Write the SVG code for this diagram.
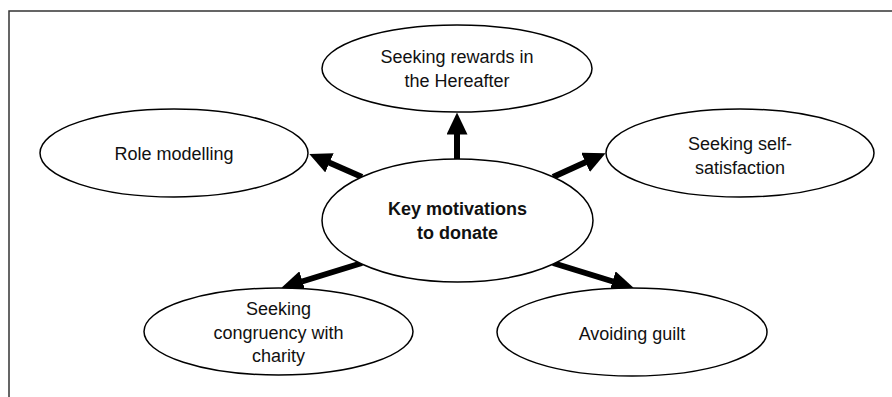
<svg xmlns="http://www.w3.org/2000/svg" width="892" height="397" viewBox="0 0 892 397">
<style>
  .frame { fill: none; stroke: #333; stroke-width: 1.5; }
  .node { fill: #fff; stroke: #000; stroke-width: 1.5; }
  .lbl { font-family: "Liberation Sans", Arial, sans-serif; font-size: 18px; fill: #111; text-anchor: middle; }
  .bold { font-weight: bold; }
  .arrow { stroke: #000; stroke-width: 6; fill: none; marker-end: url(#head); }
</style>
<defs>
  <marker id="head" viewBox="0 0 22 21" markerWidth="22" markerHeight="21" markerUnits="userSpaceOnUse" refX="0.5" refY="10.5" orient="auto">
    <path d="M0,0 L22,10.5 L0,21 Z" fill="#000"/>
  </marker>
</defs>
<rect width="892" height="397" fill="#fff"/>
<path class="frame" d="M9,397 L9,11 L892,11"/>

<g id="connectors">
  <line class="arrow" x1="457" y1="159" x2="457" y2="134"/>
  <line class="arrow" x1="362" y1="177" x2="329" y2="162.6"/>
  <line class="arrow" x1="553" y1="177" x2="586" y2="162.1"/>
  <line class="arrow" x1="362" y1="263" x2="302" y2="281.5"/>
  <line class="arrow" x1="553" y1="263" x2="613" y2="281.5"/>
</g>

<g id="node-hereafter">
  <ellipse class="node" cx="457" cy="68.5" rx="135" ry="43.5"/>
  <text class="lbl" x="457" y="63">Seeking rewards in</text>
  <text class="lbl" x="457" y="87">the Hereafter</text>
</g>

<g id="node-role">
  <ellipse class="node" cx="174" cy="153" rx="134" ry="44"/>
  <text class="lbl" x="174" y="160">Role modelling</text>
</g>

<g id="node-self">
  <ellipse class="node" cx="740" cy="153" rx="134" ry="44"/>
  <text class="lbl" x="740" y="150">Seeking self-</text>
  <text class="lbl" x="740" y="174">satisfaction</text>
</g>

<g id="node-center">
  <ellipse class="node" cx="457.5" cy="220.5" rx="135.5" ry="61.5"/>
  <text class="lbl bold" x="457.5" y="215">Key motivations</text>
  <text class="lbl bold" x="457.5" y="239">to donate</text>
</g>

<g id="node-congruency">
  <ellipse class="node" cx="278.5" cy="331.5" rx="134.5" ry="43.5"/>
  <text class="lbl" x="278.5" y="315">Seeking</text>
  <text class="lbl" x="278.5" y="339">congruency with</text>
  <text class="lbl" x="278.5" y="362">charity</text>
</g>

<g id="node-guilt">
  <ellipse class="node" cx="632" cy="332" rx="135" ry="44"/>
  <text class="lbl" x="632" y="340">Avoiding guilt</text>
</g>
</svg>
